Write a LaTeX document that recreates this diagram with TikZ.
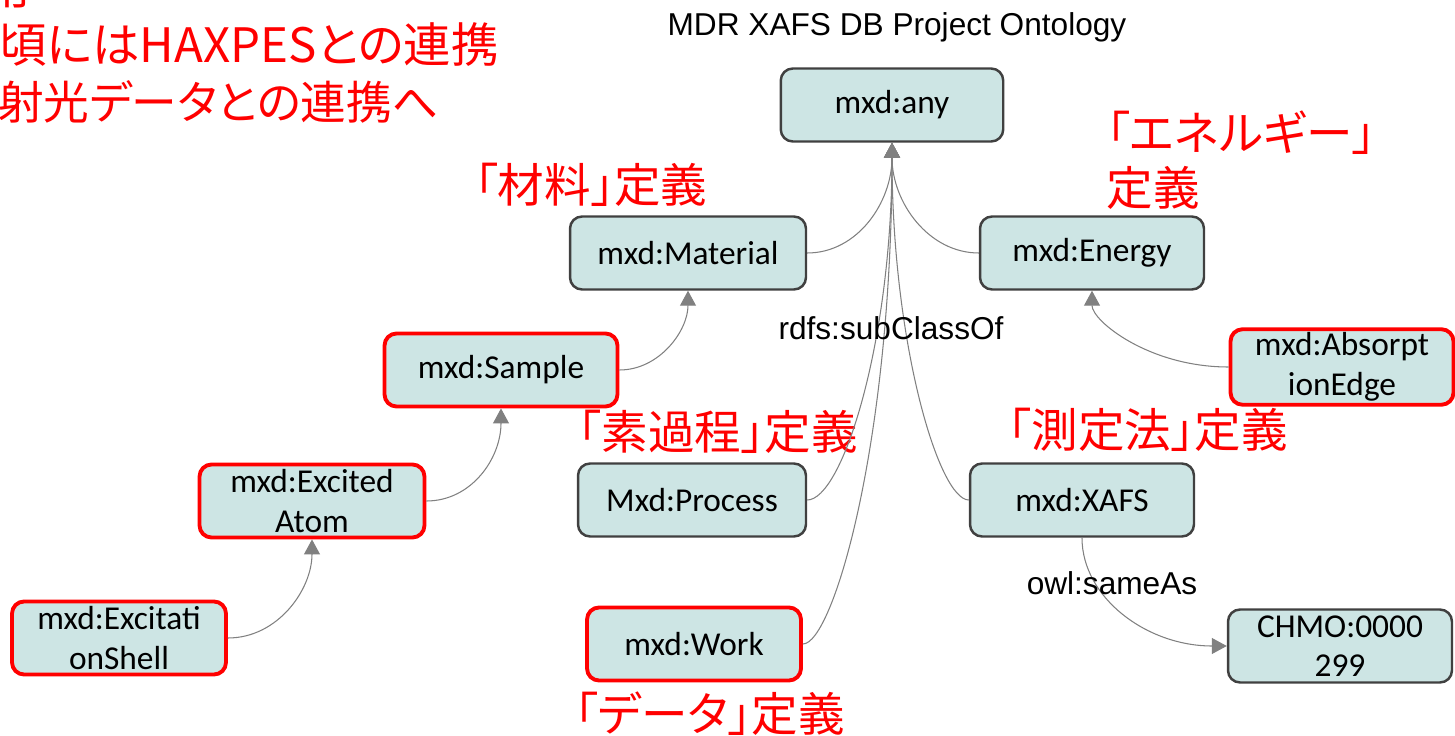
\documentclass[tikz,border=0pt]{standalone}
\usepackage{fontspec}
\setmainfont{Liberation Sans}
\newfontfamily\carlito{Carlito}
\newfontfamily\jpfont{Noto Sans CJK JP}[RawFeature=+palt]
\usetikzlibrary{arrows.meta}
\definecolor{boxfill}{RGB}{205,229,228}
\definecolor{boxline}{RGB}{64,64,64}
\definecolor{edgegray}{RGB}{128,128,128}
\begin{document}
\begin{tikzpicture}[x=0.02cm, y=-0.02cm,
  cls/.style={draw=boxline, fill=boxfill, rounded corners=0.24cm, line width=1.4pt,
    minimum height=1.46cm, align=center, inner sep=2pt,
    font=\carlito\fontsize{19}{22.5}\selectfont},
  redcls/.style={cls, draw=red, line width=2.2pt},
  note/.style={text=red, inner sep=0pt, font=\jpfont\fontsize{26.5}{31.3}\selectfont},
  bignote/.style={text=red, inner sep=0pt, font=\jpfont\fontsize{27}{32}\selectfont},
  plain/.style={inner sep=0pt, font=\fontsize{18}{22}\selectfont},
  sub/.style={draw=edgegray, line width=0.6pt, -{Triangle[length=0.3cm,width=0.32cm]}}]
\useasboundingbox (0,0) rectangle (1455,736);
\clip (0,0) rectangle (1455,736);

\node[bignote, anchor=east] (linea) at (31,-12) {用};
\node[bignote, anchor=east] (lineb) at (499,45) {頃にはHAXPESとの連携};
\node[bignote, anchor=east, font=\jpfont\fontsize{26}{32}\selectfont] (linec) at (439,102) {射光データとの連携へ};

\node[plain] (title) at (897,27) {MDR XAFS DB Project Ontology};

% classes
\node[cls, minimum width=4.45cm] (any) at (892,105) {mxd:any};
\node[cls, minimum width=4.72cm] (material) at (688,253) {mxd:Material};
\node[cls, minimum width=4.48cm] (energy) at (1092,253) {mxd:Energy};
\node[redcls, minimum width=4.66cm] (sample) at (501,370) {mxd:Sample};
\node[redcls, minimum width=4.46cm] (absedge) at (1342,367) {mxd:Absorpt\\ionEdge};
\node[cls, minimum width=4.56cm] (process) at (692,500) {Mxd:Process};
\node[cls, minimum width=4.48cm] (xafs) at (1082,500) {mxd:XAFS};
\node[redcls, minimum width=4.5cm] (excatom) at (312,501) {mxd:Excited\\Atom};
\node[redcls, minimum width=4.28cm] (excshell) at (119,638) {mxd:Excitati\\onShell};
\node[redcls, minimum width=4.28cm] (work) at (694,644) {mxd:Work};
\node[cls, minimum width=4.48cm] (chmo) at (1340,646) {CHMO:0000\\299};

% red notes
\node[note] (matnote) at (591,185) {「材料」定義};
\node[note, align=left] (enenote) at (1241,160) {「エネルギー」\\定義};
\node[note] (procnote) at (718,432) {「素過程」定義};
\node[note] (measnote) at (1148,430) {「測定法」定義};
\node[note] (datanote) at (710,714) {「データ」定義};

% subClassOf
\draw[sub] (material.east) .. controls +(50,0) and +(0,60) .. (any.south);
\draw[sub] (energy.west) .. controls +(-50,0) and +(0,60) .. (any.south);
\draw[sub] (process.east) .. controls +(35,0) and +(0,200) .. (any.south);
\draw[sub] (xafs.west) .. controls +(-30,0) and +(0,200) .. (any.south);
\draw[sub] (work.east) .. controls +(30,0) and +(0,300) .. (any.south);
\draw[sub] (sample.east) .. controls +(40,0) and +(0,40) .. (material.south);
\draw[sub] (excatom.east) .. controls +(45,0) and +(0,50) .. (sample.south);
\draw[sub] (excshell.east) .. controls +(50,0) and +(0,50) .. (excatom.south);
\draw[sub] (absedge.west) .. controls +(-80,0) and +(0,30) .. (energy.south);
\node[plain] (subcls) at (891,328) {rdfs:subClassOf};

% sameAs
\draw[sub] (xafs.south) .. controls +(0,60) and +(-80,0) .. (chmo.west);
\node[plain] (sameas) at (1112,583) {owl:sameAs};
\end{tikzpicture}
\end{document}
